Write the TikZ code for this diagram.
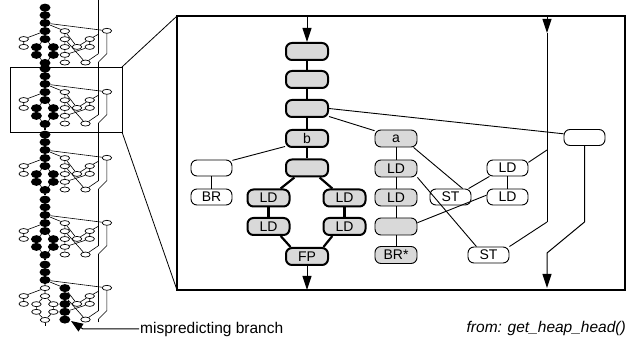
\documentclass[tikz,border=0pt]{standalone}
\usepackage{fontspec}
\setmainfont{Liberation Sans}
\usetikzlibrary{arrows.meta,shapes.geometric}
\definecolor{boxgray}{HTML}{D9D9D9}
\begin{document}
\begin{tikzpicture}[x=1pt,y=-1pt,
  base/.style={rectangle, rounded corners=6pt, minimum width=42pt, minimum height=17pt, inner sep=0pt, font=\fontsize{14}{14}\selectfont},
  chainbox/.style={base, draw, fill=boxgray, line width=2pt},
  graybox/.style={base, draw, fill=boxgray, line width=0.9pt},
  whitebox/.style={base, draw, fill=white, line width=0.9pt, minimum width=41pt, minimum height=16pt},
  conn/.style={line width=0.9pt},
  heavy/.style={line width=2.2pt},
  heavier/.style={line width=3pt},
  bigarrow/.style={-{Triangle[length=14pt,width=9pt]}, line width=1pt},
  tb/.style={ellipse, fill=black, inner sep=0pt, minimum width=11pt, minimum height=8pt},
  tw/.style={ellipse, draw, fill=white, line width=0.7pt, inner sep=0pt, minimum width=9.5pt, minimum height=5pt},
  tline/.style={line width=0.6pt},
]
\useasboundingbox (0,0) rectangle (632,347);

% ---------- thumbnails ----------
\foreach \k/\n/\bst/\ast in {0/23/tb/tw,1/84/tb/tw,2/150/tb/tw,3/215/tb/tw,4/280/tw/tb}{
  \begin{scope}[shift={(45,\n)}, xscale=0.223, yscale=0.27, shift={(-307,-108.5)}]
    \coordinate (t\k-vb) at (547,222);
    \coordinate (t\k-ve) at (547,253);
    \coordinate (t\k-v1) at (547,150);
    \coordinate (t\k-r1) at (584.5,222);
    \node[tb] (t\k-c1) at (307,51.5) {};
    \node[tb] (t\k-c2) at (307,79.5) {};
    \node[tb] (t\k-c3) at (307,108.5) {};
    \node[\bst] (t\k-b) at (307,138.5) {};
    \node[\bst] (t\k-c5) at (307,168) {};
    \node[\bst] (t\k-l1) at (268.5,198) {};
    \node[\bst] (t\k-r1n) at (344.5,198) {};
    \node[\bst] (t\k-l2) at (268.5,226.5) {};
    \node[\bst] (t\k-r2n) at (344.5,226.5) {};
    \node[\bst] (t\k-fp) at (307,256.5) {};
    \node[tw] (t\k-w1) at (211.5,168) {};
    \node[tw] (t\k-br) at (211.5,197) {};
    \node[\ast] (t\k-a) at (396,138.5) {};
    \node[\ast] (t\k-g1) at (396,168.5) {};
    \node[\ast] (t\k-g2) at (396,197.5) {};
    \node[\ast] (t\k-g3) at (396,226.5) {};
    \node[\ast] (t\k-g4) at (396,255) {};
    \node[tw] (t\k-x1) at (507.5,168) {};
    \node[tw] (t\k-x2) at (507.5,197) {};
    \node[tw] (t\k-sl) at (450.5,197) {};
    \node[tw] (t\k-sb) at (488.5,255) {};
    \node[tw] (t\k-rw) at (584.5,137.5) {};
    \draw[tline] (t\k-c1) -- (t\k-c2);
    \draw[tline] (t\k-c2) -- (t\k-c3);
    \draw[tline] (t\k-c3) -- (t\k-b);
    \draw[tline] (t\k-b) -- (t\k-c5);
    \draw[tline] (t\k-c5) -- (t\k-l1);
    \draw[tline] (t\k-c5) -- (t\k-r1n);
    \draw[tline] (t\k-l1) -- (t\k-l2);
    \draw[tline] (t\k-r1n) -- (t\k-r2n);
    \draw[tline] (t\k-l2) -- (t\k-fp);
    \draw[tline] (t\k-r2n) -- (t\k-fp);
    \draw[tline] (t\k-c3) -- (t\k-rw);
    \draw[tline] (t\k-c3) -- (t\k-a);
    \draw[tline] (t\k-b) -- (t\k-w1);
    \draw[tline] (t\k-w1) -- (t\k-br);
    \draw[tline] (t\k-a) -- (t\k-g1);
    \draw[tline] (t\k-g1) -- (t\k-g2);
    \draw[tline] (t\k-g2) -- (t\k-g3);
    \draw[tline] (t\k-g3) -- (t\k-g4);
    \draw[tline] (t\k-a) -- (t\k-sl);
    \draw[tline] (t\k-g1) -- (t\k-sb);
    \draw[tline] (t\k-sl) -- (t\k-x1);
    \draw[tline] (t\k-x1) -- (t\k-x2);
    \draw[tline] (t\k-x1) -- (t\k-v1);
    \draw[tline] (t\k-x2) -- (t\k-g3);
    \draw[tline] (t\k-sb) -- (t\k-vb);
    \draw[tline] (t\k-rw) -- (t\k-r1) -- (t\k-ve);
  \end{scope}
}
\coordinate (ttop) at (98.5,0);
\coordinate (tbot) at (98.5,322);
\coordinate (tfpend) at (45,326);
\draw[tline] (ttop) -- (t0-vb);
\foreach \k/\j in {0/1,1/2,2/3,3/4}{
  \draw[tline] (t\k-ve) -- (t\j-vb);
  \draw[line width=2pt] (t\k-fp) -- (t\j-c1);
}
\draw[tline] (t4-ve) -- (tbot);
\draw[tline] (t4-fp) -- (tfpend);

% ---------- zoom frame ----------
\coordinate (zr1) at (10,67);
\coordinate (zr2) at (122,132);
\coordinate (zrtr) at (122,67);
\coordinate (bigtl) at (177,16);
\coordinate (bigbl) at (177,290);
\coordinate (bigbr) at (625,290);
\draw[line width=0.8pt] (zr1) rectangle (zr2);
\draw[line width=0.8pt] (zrtr) -- (bigtl);
\draw[line width=0.8pt] (zr2) -- (bigbl);
\draw[line width=1.2pt] (bigtl) rectangle (bigbr);

% ---------- main graph ----------
\node[chainbox] (c1) at (307,51.5) {};
\node[chainbox] (c2) at (307,79.5) {};
\node[chainbox] (c3) at (307,108.5) {};
\node[chainbox] (b) at (307,138.5) {b};
\node[chainbox] (c5) at (307,168) {};
\node[chainbox] (ldl1) at (268.5,198) {LD};
\node[chainbox] (ldr1) at (344.5,198) {LD};
\node[chainbox] (ldl2) at (268.5,226.5) {LD};
\node[chainbox] (ldr2) at (344.5,226.5) {LD};
\node[chainbox] (fp) at (307,256.5) {FP};

\node[whitebox] (w1) at (211.5,168) {};
\node[whitebox] (br) at (211.5,197) {BR};

\node[graybox] (a) at (396,138.5) {a};
\node[graybox] (g1) at (396,168.5) {LD};
\node[graybox] (g2) at (396,197.5) {LD};
\node[graybox] (g3) at (396,226.5) {};
\node[graybox] (brs) at (396,255) {BR*};

\node[whitebox] (ldx1) at (507.5,168) {LD};
\node[whitebox] (ldx2) at (507.5,197) {LD};
\node[whitebox] (stl) at (450.5,197) {ST};
\node[whitebox] (stb) at (488.5,255) {ST};
\node[whitebox] (rw) at (584.5,137.5) {};

\coordinate (vtop) at (307,16);
\coordinate (vbot) at (307,290);
\coordinate (vt) at (547,16);
\coordinate (va) at (547,33);
\coordinate (v1) at (547,150);
\coordinate (vb) at (547,222);
\coordinate (rw1) at (584.5,222);
\coordinate (rw2) at (547,253);
\coordinate (rwe) at (547,288);

\draw[bigarrow] (vtop) -- (c1.north);
\draw[bigarrow] (fp.south) -- (vbot);
\draw[heavy] (c1) -- (c2);
\draw[heavy] (c2) -- (c3);
\draw[heavy] (c3) -- (b);
\draw[heavy] (b) -- (c5);
\draw[heavy] (c5.217) -- (ldl1.38);
\draw[heavy] (c5.-37) -- (ldr1.142);
\draw[heavier] (ldl1) -- (ldl2);
\draw[heavier] (ldr1) -- (ldr2);
\draw[heavy] (ldl2.-38) -- (fp.150);
\draw[heavy] (ldr2.218) -- (fp.30);

\draw[conn] (c3.east) -- (rw.170);
\draw[conn] (c3.-20) -- (a.160);
\draw[conn] (b.200) -- (w1.20);
\draw[conn] (w1) -- (br);
\draw[conn] (a) -- (g1);
\draw[conn] (g1) -- (g2);
\draw[conn] (g2) -- (g3);
\draw[conn] (g3) -- (brs);
\draw[conn] (a.-27) -- (stl.35);
\draw[conn] (g1.south east) -- (stb.145);
\draw[conn] (stl.25) -- (ldx1.205);
\draw[conn] (ldx1) -- (ldx2);
\draw[conn] (ldx1.15) -- (v1);
\draw[conn] (ldx2.175) -- (g3.10);
\draw[conn] (stb.north east) -- (vb);
\draw[bigarrow] (vt) -- (va);
\draw[conn] (va) -- (vb);
\draw[bigarrow] (rw.south) -- (rw1) -- (rw2) -- (rwe);

% ---------- captions ----------
\node[anchor=west, inner sep=1pt, font=\fontsize{15.5}{15.5}\selectfont] (mis) at (139,329) {mispredicting branch};
\coordinate (mk) at (83,329);
\coordinate (mt) at (71,321);
\draw[-{Triangle[length=12pt,width=9pt]}, line width=1pt] (mis.west) -- (mk) -- (mt);
\node[anchor=east, inner sep=0pt, font=\itshape\fontsize{15.5}{15.5}\selectfont] (src) at (626,328) {from: get\_heap\_head()};
\end{tikzpicture}
\end{document}
